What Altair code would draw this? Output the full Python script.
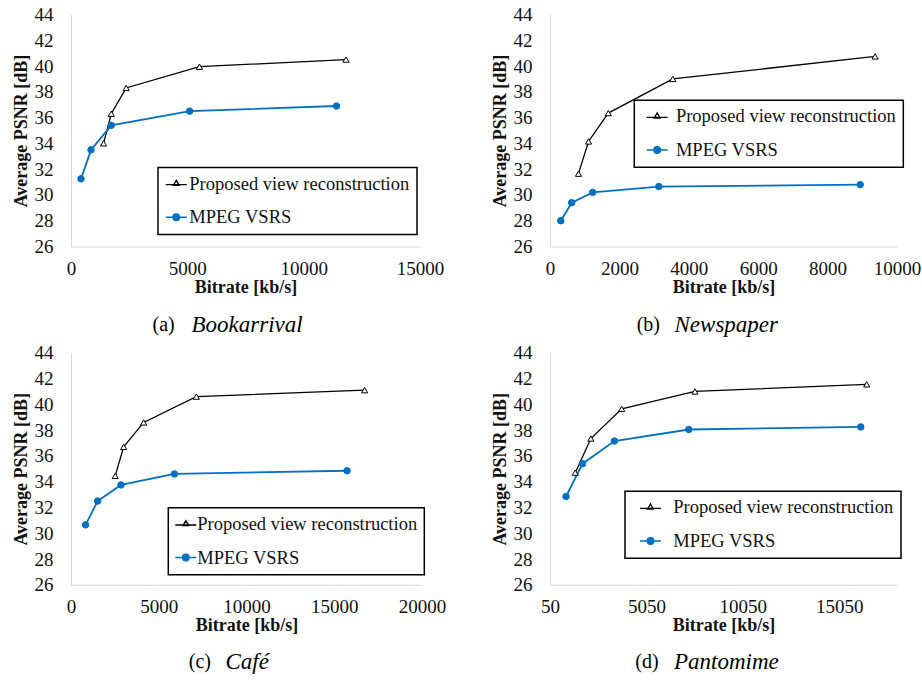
import altair as alt
import pandas as pd

SERIES = ["Proposed view reconstruction", "MPEG VSRS"]
BLUE = "#0070C0"
SERIF = "Liberation Serif, DejaVu Serif, Noto Serif, Times New Roman, Times, serif"
PSNR_TICKS = [26, 28, 30, 32, 34, 36, 38, 40, 42, 44]

# (a) Bookarrival
book_prop_rate = [1400, 1730, 2370, 5520, 11820]
book_prop_psnr = [34.0, 36.3, 38.3, 39.95, 40.5]
book_vsrs_rate = [430, 860, 1730, 5100, 11410]
book_vsrs_psnr = [31.25, 33.5, 35.4, 36.5, 36.9]
book_ticks = [0, 5000, 10000, 15000]

# (b) Newspaper
news_prop_rate = [820, 1110, 1680, 3540, 9370]
news_prop_psnr = [31.65, 34.15, 36.35, 39.0, 40.75]
news_vsrs_rate = [310, 625, 1230, 3135, 8940]
news_vsrs_psnr = [28.0, 29.4, 30.2, 30.65, 30.8]
news_ticks = [0, 2000, 4000, 6000, 8000, 10000]

# (c) Cafe
cafe_prop_rate = [2520, 3000, 4140, 7140, 16730]
cafe_prop_psnr = [34.45, 36.7, 38.6, 40.6, 41.1]
cafe_vsrs_rate = [830, 1520, 2850, 5890, 15730]
cafe_vsrs_psnr = [30.65, 32.5, 33.75, 34.6, 34.85]
cafe_ticks = [0, 5000, 10000, 15000, 20000]

# (d) Pantomime
panto_prop_rate = [1360, 2170, 3770, 7570, 16480]
panto_prop_psnr = [34.7, 37.35, 39.65, 41.0, 41.55]
panto_vsrs_rate = [880, 1740, 3390, 7250, 16170]
panto_vsrs_psnr = [32.85, 35.4, 37.15, 38.05, 38.25]
panto_ticks = [50, 5050, 10050, 15050]

# legend symbols: a short line with the series marker on it
TRI_PATH = "M-3.5,0.3H3.5M0,-1.15L0.95,0.5L-0.95,0.5Z"
DOT_PATH = "M-3.5,0H3.5M1.1,0A1.1,1.1 0 1 1 -1.1,0A1.1,1.1 0 1 1 1.1,0Z"


def panel(prop_rate, prop_psnr, vsrs_rate, vsrs_psnr, x_domain, x_ticks,
          width, legend_x, legend_y, sym_offset, lab_offset,
          tag, name, cap_x, cap_name_x, cap_y):
    prop = pd.DataFrame({"rate": prop_rate, "psnr": prop_psnr, "series": SERIES[0]})
    vsrs = pd.DataFrame({"rate": vsrs_rate, "psnr": vsrs_psnr, "series": SERIES[1]})
    both = pd.concat([prop, vsrs], ignore_index=True)

    x = alt.X(
        "rate:Q",
        scale=alt.Scale(domain=x_domain, nice=False, zero=False),
        axis=alt.Axis(
            values=x_ticks, format="d", grid=False, ticks=False,
            domainColor="#d9d9d9", domainWidth=1,
            labelFont=SERIF, labelFontSize=19, labelColor="#111",
            labelPadding=13, labelFlush=False, labelOverlap=False,
            title="Bitrate [kb/s]", titleFont=SERIF, titleFontSize=18,
            titleFontWeight="bold", titleColor="#111", titlePadding=0,
        ),
    )
    y = alt.Y(
        "psnr:Q",
        scale=alt.Scale(domain=[26, 44], nice=False, zero=False),
        axis=alt.Axis(
            values=PSNR_TICKS, grid=False, ticks=False,
            domainColor="#d9d9d9", domainWidth=1,
            labelFont=SERIF, labelFontSize=19, labelColor="#111",
            labelPadding=18, labelOverlap=False,
            title="Average PSNR [dB]", titleFont=SERIF, titleFontSize=18,
            titleFontWeight="bold", titleColor="#111", titlePadding=4,
        ),
    )

    prop_line = alt.Chart(prop).mark_line(color="black", strokeWidth=1.3).encode(x=x, y=y)
    prop_pts = alt.Chart(prop).mark_point(
        shape="triangle-up", filled=True, fill="white", stroke="black",
        strokeWidth=1, size=38, opacity=1,
    ).encode(x=x, y=y)
    vsrs_line = alt.Chart(vsrs).mark_line(color=BLUE, strokeWidth=1.8).encode(x=x, y=y)
    vsrs_pts = alt.Chart(vsrs).mark_point(
        shape="circle", filled=True, fill=BLUE, stroke=BLUE,
        strokeWidth=1, size=42, opacity=1,
    ).encode(x=x, y=y)

    leg = alt.Legend(
        title=None, orient="none", legendX=legend_x, legendY=legend_y,
        strokeColor="black", padding=7, rowPadding=14.5,
        symbolSize=36, symbolStrokeWidth=1.4, symbolOpacity=1,
        symbolOffset=sym_offset, labelOffset=lab_offset,
        labelFont=SERIF, labelFontSize=18.5, labelColor="#111", labelLimit=400,
    )
    key = alt.Chart(both).transform_filter("false").mark_point(
        filled=True, opacity=1, size=36
    ).encode(
        x=x, y=y,
        shape=alt.Shape("series:N", scale=alt.Scale(domain=SERIES, range=[TRI_PATH, DOT_PATH]), legend=leg),
        fill=alt.Fill("series:N", scale=alt.Scale(domain=SERIES, range=["white", BLUE]), legend=leg),
        stroke=alt.Stroke("series:N", scale=alt.Scale(domain=SERIES, range=["black", BLUE]), legend=leg),
    )

    cap_tag = alt.Chart(pd.DataFrame({"t": [tag]})).mark_text(
        align="left", baseline="middle", font=SERIF, fontSize=20, color="black"
    ).encode(x=alt.value(cap_x), y=alt.value(cap_y), text="t:N")
    cap_name = alt.Chart(pd.DataFrame({"t": [name]})).mark_text(
        align="left", baseline="middle", font=SERIF, fontSize=23,
        fontStyle="italic", color="black"
    ).encode(x=alt.value(cap_name_x), y=alt.value(cap_y), text="t:N")

    return alt.layer(prop_line, vsrs_line, prop_pts, vsrs_pts, key, cap_tag, cap_name).properties(
        width=width, height=232
    )


pa = panel(book_prop_rate, book_prop_psnr, book_vsrs_rate, book_vsrs_psnr,
           [0, 15000], book_ticks, 349, 87, 153, 2, 3.8,
           "(a)", "Bookarrival", 81.5, 120.5, 310)
pb = panel(news_prop_rate, news_prop_psnr, news_vsrs_rate, news_vsrs_psnr,
           [0, 10000], news_ticks, 347, 84.3, 85.7, 6.6, 9.5,
           "(b)", "Newspaper", 86.7, 124.5, 310)
pc = panel(cafe_prop_rate, cafe_prop_psnr, cafe_vsrs_rate, cafe_vsrs_psnr,
           [0, 20000], cafe_ticks, 351, 97.3, 155, 1.25, 2.2,
           "(c)", "Café", 117.8, 154.5, 309)
pd_ = panel(panto_prop_rate, panto_prop_psnr, panto_vsrs_rate, panto_vsrs_psnr,
            [50, 18050], panto_ticks, 347, 75, 138.4, 9.25, 13.5,
            "(d)", "Pantomime", 85.3, 124, 309)

chart = alt.ConcatChart(
    concat=[pa, pb, pc, pd_], columns=2, bounds="flush",
    spacing={"row": 106.3, "column": 128},
).resolve_scale(
    shape="independent", fill="independent", stroke="independent"
).resolve_legend(
    shape="independent", fill="independent", stroke="independent"
).properties(
    padding={"left": 12, "top": 5.5, "right": 0, "bottom": 0},
    background="white",
).configure_view(stroke=None).configure_legend(strokeWidth=1.5)

chart.save("out.html", embed_options={"renderer": "svg", "actions": False})
